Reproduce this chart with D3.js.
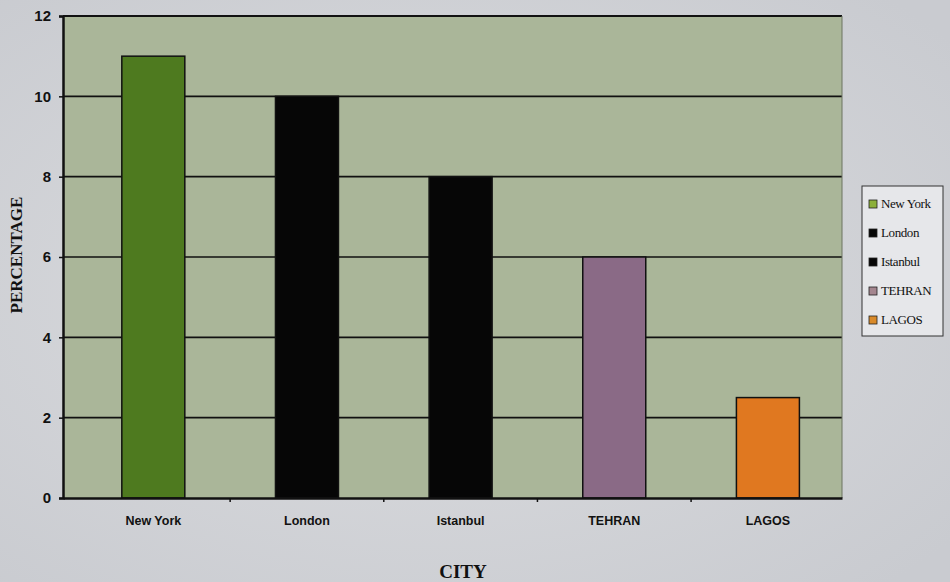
<!DOCTYPE html>
<html><head><meta charset="utf-8">
<script src="https://cdn.jsdelivr.net/npm/d3@7"></script>
<style>body{margin:0;background:#d3d5d9;}svg{display:block;}</style>
</head><body>
<svg id="chart" width="950" height="582"></svg>
<script>
const categories = ["New York", "London", "Istanbul", "TEHRAN", "LAGOS"];
const values = [11, 10, 8, 6, 2.5];
const colors = ["#4e7a1f", "#060606", "#060606", "#8a6a86", "#e07820"];
const legendColors = ["#8cb03a", "#060606", "#060606", "#a4868f", "#d98a2a"];
const yTicks = [0, 2, 4, 6, 8, 10, 12];

const svg = d3.select("#chart");
const defs = svg.append("defs");
const g0 = defs.append("radialGradient").attr("id","bg").attr("cx","0.45").attr("cy","0.5").attr("r","0.7");
g0.append("stop").attr("offset","0").attr("stop-color","#dcdde0");
g0.append("stop").attr("offset","1").attr("stop-color","#c9cbd0");
svg.append("rect").attr("width",950).attr("height",582).attr("fill","url(#bg)");

const m = {left:63, right:842, top:16, bottom:498};
const x = d3.scaleBand().domain(categories).range([m.left, m.right])
  .paddingInner(0.59).paddingOuter(0.33).align(0.58);
const y = d3.scaleLinear().domain([0,12]).range([m.bottom, m.top]);

svg.append("rect").attr("x",m.left).attr("y",m.top).attr("width",m.right-m.left).attr("height",m.bottom-m.top)
  .attr("fill","#aab699");

// grid
svg.append("g").selectAll("line").data(yTicks.filter(d=>d>0)).join("line")
  .attr("x1",m.left).attr("x2",m.right).attr("y1",d=>y(d)).attr("y2",d=>y(d))
  .attr("stroke","#111").attr("stroke-width",d=>d===12?2:1.6);

// bars
svg.append("g").selectAll("rect").data(values).join("rect")
  .attr("x",(d,i)=>x(categories[i])).attr("width",x.bandwidth())
  .attr("y",d=>y(d)).attr("height",d=>y(0)-y(d))
  .attr("fill",(d,i)=>colors[i]).attr("stroke","#111").attr("stroke-width",1.5);

// right border
svg.append("line").attr("x1",m.right).attr("x2",m.right).attr("y1",m.top).attr("y2",m.bottom)
  .attr("stroke","#6d7560").attr("stroke-width",1);

// y axis
const ya = svg.append("g").attr("transform",`translate(${m.left},0)`)
  .call(d3.axisLeft(y).tickValues(yTicks).tickSize(4).tickPadding(8));
ya.select(".domain").attr("stroke","#111").attr("stroke-width",2.5);
ya.selectAll(".tick line").attr("stroke","#111").attr("stroke-width",1.5);
ya.selectAll(".tick text").attr("font-family","Liberation Sans, Arial, sans-serif")
  .attr("font-weight","bold").attr("font-size",15).attr("fill","#111");

// x axis
const xa = svg.append("g").attr("transform",`translate(0,${m.bottom})`)
  .call(d3.axisBottom(x).tickSize(0).tickPadding(18));
xa.select(".domain").attr("stroke","#111").attr("stroke-width",2.5);
xa.selectAll(".tick text").attr("font-family","Liberation Sans, Arial, sans-serif")
  .attr("font-weight","bold").attr("font-size",12.5).attr("fill","#111");
// boundary ticks between categories
const step = x.step();
svg.append("g").selectAll("line").data(categories.slice(1)).join("line")
  .attr("x1",d=>x(d)-x.paddingInner()*step/2).attr("x2",d=>x(d)-x.paddingInner()*step/2)
  .attr("y1",m.bottom).attr("y2",m.bottom+4).attr("stroke","#111").attr("stroke-width",1.5);

// axis titles
svg.append("text").attr("transform","translate(22,255) rotate(-90)").attr("text-anchor","middle")
  .attr("font-family","Liberation Serif, Times New Roman, serif").attr("font-weight","bold")
  .attr("font-size",17).attr("fill","#111").text("PERCENTAGE");
svg.append("text").attr("x",463).attr("y",578).attr("text-anchor","middle")
  .attr("font-family","Liberation Serif, Times New Roman, serif").attr("font-weight","bold")
  .attr("font-size",19).attr("fill","#111").text("CITY");

// legend
const lg = svg.append("g").attr("transform","translate(862,186)");
lg.append("rect").attr("width",81).attr("height",150).attr("fill","#e6e7ea").attr("stroke","#333").attr("stroke-width",1);
const items = lg.selectAll("g").data(categories).join("g")
  .attr("transform",(d,i)=>`translate(7,${21+i*29})`);
items.append("rect").attr("x",0).attr("y",-7).attr("width",8).attr("height",8)
  .attr("fill",(d,i)=>legendColors[i]).attr("stroke","#222").attr("stroke-width",0.8);
items.append("text").attr("x",12).attr("y",1).attr("font-family","Liberation Serif, Times New Roman, serif")
  .attr("font-size",13).attr("letter-spacing",-0.4).attr("fill","#111").text(d=>d);
</script>
</body></html>
